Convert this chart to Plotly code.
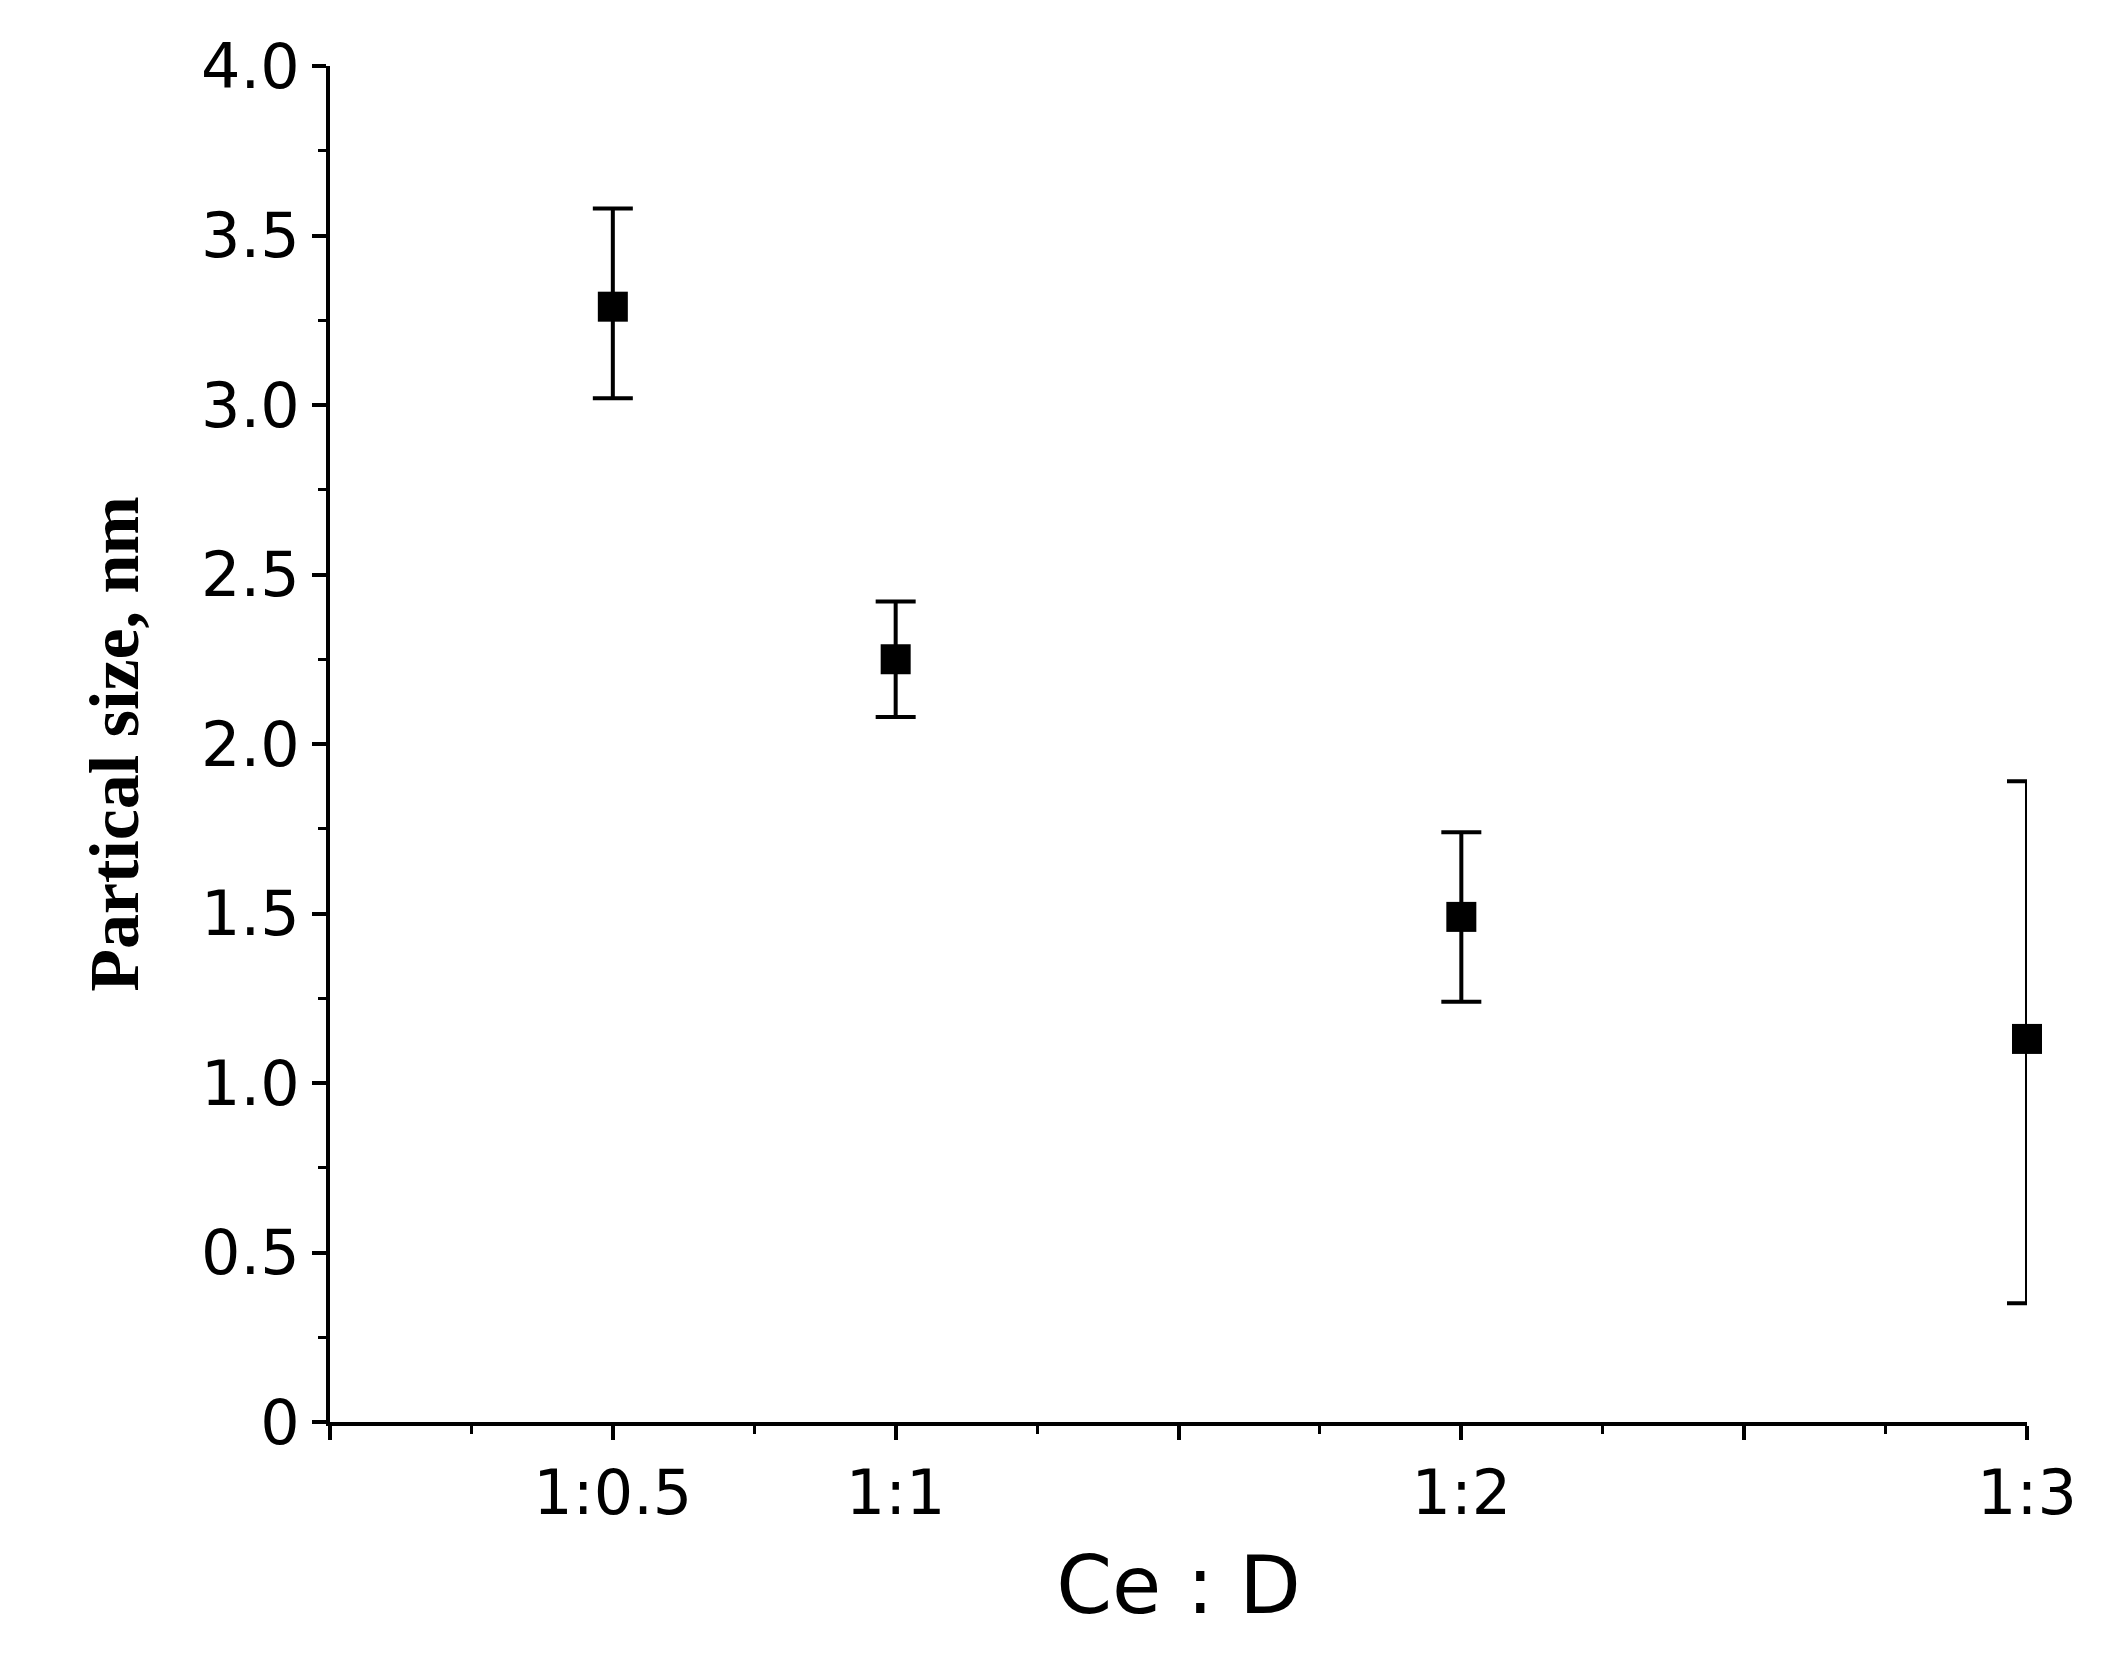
import plotly.graph_objects as go

# ##### Data #####
ratio_x = [0.5, 1, 2, 3]
size_nm = [3.29, 2.25, 1.49, 1.13]
err_upper = [3.58, 2.42, 1.74, 1.89]
err_lower = [3.02, 2.08, 1.24, 0.35]
x_tick_vals = [0, 0.5, 1, 1.5, 2, 2.5, 3]
x_tick_text = ["", "1:0.5", "1:1", "", "1:2", "", "1:3"]
y_tick_vals = [0, 0.5, 1, 1.5, 2, 2.5, 3, 3.5, 4]
y_tick_text = ["0", "0.5", "1.0", "1.5", "2.0", "2.5", "3.0", "3.5", "4.0"]

plus = [u - v for u, v in zip(err_upper, size_nm)]
minus = [v - l for v, l in zip(size_nm, err_lower)]

fig = go.Figure()
fig.add_trace(go.Scatter(
    x=ratio_x, y=size_nm, mode="markers", cliponaxis=False,
    marker=dict(symbol="square", size=30, color="black"),
    error_y=dict(type="data", symmetric=False, array=plus, arrayminus=minus,
                 color="black", thickness=4, width=20),
    showlegend=False,
))

axis_common = dict(showline=True, linecolor="black", linewidth=4, ticks="outside",
                   ticklen=14, tickwidth=4, tickcolor="black", showgrid=False,
                   zeroline=False, tickfont=dict(family="DejaVu Sans", size=62, color="black"),
                   minor=dict(ticks="outside", ticklen=8, tickwidth=3, tickcolor="black", dtick=0.25))

fig.update_xaxes(range=[0, 3], tickmode="array", tickvals=x_tick_vals, ticktext=x_tick_text,
                 title=dict(text="Ce : D", font=dict(family="DejaVu Sans", size=80, color="black"), standoff=30),
                 **axis_common)
fig.update_yaxes(range=[0, 4], tickmode="array", tickvals=y_tick_vals, ticktext=y_tick_text,
                 title=dict(text="<b>Partical size, nm</b>", font=dict(family="Liberation Serif", size=70, color="black"), standoff=40),
                 **axis_common)

fig.update_layout(width=2117, height=1666, plot_bgcolor="white", paper_bgcolor="white",
                  margin=dict(l=322, r=98, t=58, b=252))

fig.write_html("out.html")
